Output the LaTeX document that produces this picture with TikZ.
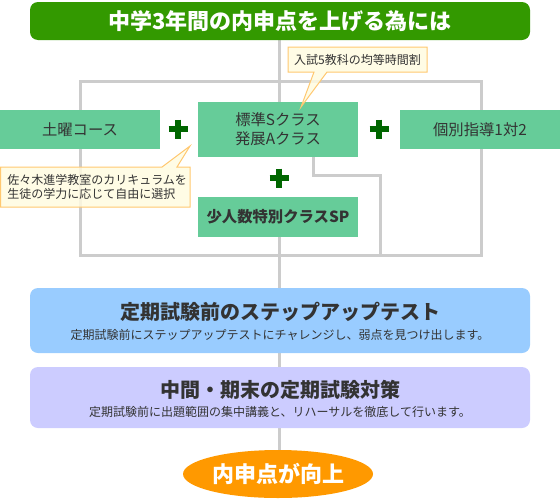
\documentclass[tikz,border=0pt]{standalone}
\usepackage{fontspec}
\setmainfont{Noto Sans CJK JP}
\usetikzlibrary{shapes.geometric,backgrounds}
\definecolor{titlegreen}{HTML}{339900}
\definecolor{boxgreen}{HTML}{66CC99}
\definecolor{plusgreen}{HTML}{006600}
\definecolor{framegray}{HTML}{CCCCCC}
\definecolor{txt}{HTML}{333333}
\definecolor{bluebox}{HTML}{99CCFF}
\definecolor{lavbox}{HTML}{CCCCFF}
\definecolor{orangeov}{HTML}{FF9900}
\definecolor{notefill}{HTML}{FFFBE0}
\definecolor{noteline}{HTML}{FFC870}
\begin{document}
\begin{tikzpicture}[x=0.75pt,y=-0.75pt,
  greenbox/.style={fill=boxgreen, text=txt, inner sep=0pt, minimum width=120pt, font=\fontsize{11.5}{14.25}\selectfont, align=center},
  bigbox/.style={rounded corners=6pt, inner sep=0pt, minimum width=375pt},
  headtext/.style={text=txt, inner sep=0pt, font=\bfseries\fontsize{15}{18}\selectfont},
  subtext/.style={text=txt, inner sep=0pt, font=\fontsize{9}{11}\selectfont},
  graylines/.style={draw=framegray, line width=2.25pt},
  plussign/.style={draw=plusgreen, line width=4.5pt},
  note/.style={fill=notefill, draw=noteline, line width=0.75pt, fill opacity=0.85},
  notetext/.style={text=txt, font=\fontsize{9}{10.5}\selectfont, inner sep=0pt},
]
\useasboundingbox (0,0) rectangle (560,500);

% main nodes
\node[fill=titlegreen, bigbox, minimum height=28.5pt, text=white, font=\bfseries\fontsize{16.5}{18}\selectfont] (title) at (280,21) {中学3年間の内申点を上げる為には};

\node[greenbox, minimum height=29.25pt] (sat) at (80,129.5) {土曜コース};
\node[greenbox, minimum height=41.25pt] (std) at (278,129.5) {標準Sクラス\\発展Aクラス};
\node[greenbox, minimum height=29.25pt] (ind) at (480,129.5) {個別指導1対2};
\node[greenbox, minimum height=30pt, font=\bfseries\fontsize{11.5}{14}\selectfont] (sp) at (278,217) {少人数特別クラスSP};

\node[bigbox, fill=bluebox, minimum height=48.75pt] (step) at (280,320.5) {};
\node[headtext] (stepT) at (280,312) {定期試験前のステップアップテスト};
\node[subtext] (stepS) at (280,335) {定期試験前にステップアップテストにチャレンジし、弱点を見つけ出します。};

\node[bigbox, fill=lavbox, minimum height=45.75pt] (exam) at (280,397.5) {};
\node[headtext] (examT) at (280,390) {中間・期末の定期試験対策};
\node[subtext] (examS) at (280,412) {定期試験前に出題範囲の集中講義と、リハーサルを徹底して行います。};

\node[ellipse, fill=orangeov, minimum width=142.5pt, minimum height=36pt, inner sep=0pt, text=white, font=\bfseries\fontsize{16.5}{18}\selectfont] (up) at (278,474) {内申点が向上};

\coordinate (axis) at (279,0);
\coordinate (inner) at (313,0);

\begin{scope}[on background layer]
  \draw[graylines] (80,81) rectangle (481,255);
  \draw[graylines] (std.south -| inner) -- (313,175) -- (380,175) -- (380,255);
  \draw[graylines] (title.south -| axis) -- (std.north -| axis);
  \draw[graylines] (sp.south -| axis) -- (step.north -| axis);
  \draw[graylines] (step.south -| axis) -- (exam.north -| axis);
  \draw[graylines] (exam.south -| axis) -- (up.north -| axis);
\end{scope}

% plus signs
\draw[plussign] (168.5,129) -- (187.5,129) (178,119.5) -- (178,138.5);
\draw[plussign] (369.5,129) -- (388.5,129) (379,119.5) -- (379,138.5);
\draw[plussign] (269.5,178) -- (288.5,178) (279,168.5) -- (279,187.5);

% callouts
\draw[note] (288,47) -- (427,47) -- (427,72) -- (327,72) -- (301,107) -- (314,72) -- (288,72) -- cycle;
\node[notetext] (noteT) at (357.5,59.5) {入試5教科の均等時間割};

\draw[note] (0.5,167) -- (162,167) -- (190,146) -- (177,167) -- (190,167) -- (190,207) -- (0.5,207) -- cycle;
\node[notetext, align=left, anchor=west] (noteL) at (7,187) {佐々木進学教室のカリキュラムを\\生徒の学力に応じて自由に選択};
\end{tikzpicture}
\end{document}
